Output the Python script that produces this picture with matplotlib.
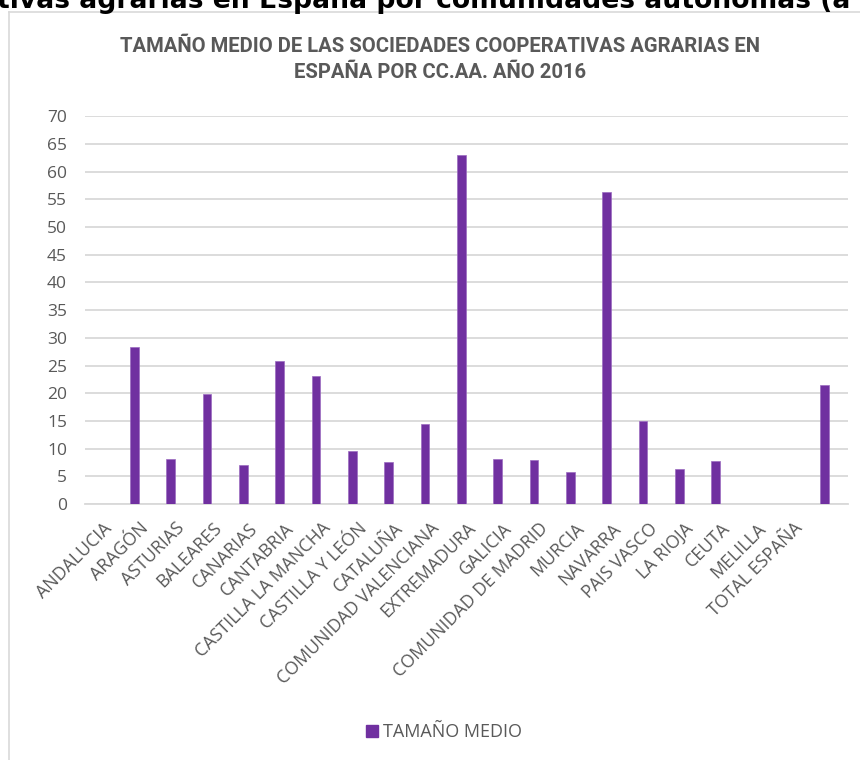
import numpy as np
import matplotlib
matplotlib.use("Agg")
import matplotlib.pyplot as plt
from matplotlib.lines import Line2D
from matplotlib.patches import Patch

# ---- data ----
categories = ['ANDALUCIA', 'ARAGÓN', 'ASTURIAS', 'BALEARES', 'CANARIAS', 'CANTABRIA',
              'CASTILLA LA MANCHA', 'CASTILLA Y LEÓN', 'CATALUÑA', 'COMUNIDAD VALENCIANA',
              'EXTREMADURA', 'GALICIA', 'COMUNIDAD DE MADRID', 'MURCIA', 'NAVARRA',
              'PAIS VASCO', 'LA RIOJA', 'CEUTA', 'MELILLA', 'TOTAL ESPAÑA', '']
tamano_medio = [np.nan, 28.4, 8.2, 19.8, 7.0, 25.9, 23.1, 9.5, 7.6, 14.5,
                63.1, 8.2, 7.9, 5.8, 56.4, 15.0, 6.4, 7.7, np.nan, np.nan, 21.5]
series_name = 'TAMAÑO MEDIO'
title_lines = ['TAMAÑO MEDIO DE LAS SOCIEDADES COOPERATIVAS AGRARIAS EN',
               'ESPAÑA POR CC.AA. AÑO 2016']
header = 'tivas agrarias en España por comunidades autónomas (a'
y_ticks = list(range(0, 75, 5))

W, H = 860, 760
PURPLE = '#7030A0'
GRID = '#D9D9D9'
TXT = '#595959'
SANS = ['Open Sans', 'DejaVu Sans']
NARROW = ['Liberation Sans Narrow', 'Roboto', 'DejaVu Sans']

fig = plt.figure(figsize=(W / 100, H / 100), dpi=100)
fig.patch.set_facecolor('white')

# chart frame (cut off at right/bottom)
fig.add_artist(Line2D([9 / W, 9 / W], [0, 1 - 12 / H], transform=fig.transFigure,
                      color=GRID, lw=1.2))
fig.add_artist(Line2D([9 / W, 1], [1 - 12 / H, 1 - 12 / H], transform=fig.transFigure,
                      color=GRID, lw=1.2))

# header text cut at top
fig.text(-3 / W, 1 - 7.5 / H, header, ha='left', va='baseline', fontsize=19.2,
         fontweight='bold', color='black', family=['DejaVu Sans'])

ax = fig.add_axes([85 / W, (H - 504) / H, 763 / W, (504 - 116.3) / H])
x = np.arange(len(categories))
bars = ax.bar(x - 0.14, tamano_medio, width=0.24, color=PURPLE,
              edgecolor='#9B6BC0', linewidth=0.5, zorder=3, label=series_name)

ax.set_xlim(-0.5, len(categories) - 0.5)
ax.set_ylim(0, 70)
ax.set_yticks(y_ticks)
ax.set_yticklabels([str(v) for v in y_ticks], fontsize=12.5, color=TXT, family=SANS)
ax.set_xticks(x)
ax.set_xticklabels(categories, rotation=45, ha='right', rotation_mode='anchor',
                   fontsize=12.8, color=TXT, family=SANS)
ax.tick_params(axis='both', length=0)
ax.tick_params(axis='y', pad=13)
ax.tick_params(axis='x', pad=11)
ax.grid(axis='y', color=GRID, lw=1.3, zorder=0)
for s in ['top', 'right', 'left']:
    ax.spines[s].set_visible(False)
ax.spines['bottom'].set_color(GRID)
ax.spines['bottom'].set_linewidth(1.3)

fig.text(440 / W, 1 - 47 / H, title_lines[0], ha='center', va='center', fontsize=14.6,
         fontweight='bold', color=TXT, family=NARROW)
fig.text(440 / W, 1 - 73 / H, title_lines[1], ha='center', va='center', fontsize=14.6,
         fontweight='bold', color=TXT, family=NARROW)

fig.legend(handles=[Patch(facecolor=PURPLE, edgecolor=PURPLE)], labels=[series_name],
           loc='center', bbox_to_anchor=(444 / W, 1 - 732 / H), frameon=False,
           handlelength=0.65, handleheight=0.65, handletextpad=0.3,
           prop={'family': SANS, 'size': 13}, labelcolor=TXT)

fig.savefig('out.png', dpi=100)
